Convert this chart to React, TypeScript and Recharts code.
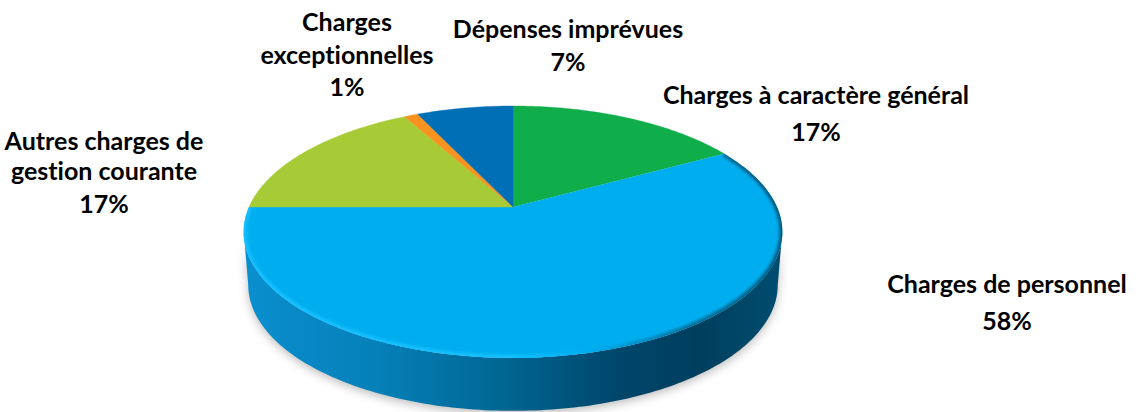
import React from "react";
import { PieChart, Pie } from "recharts";

const categories = [
  "Charges à caractère général",
  "Charges de personnel",
  "Autres charges de gestion courante",
  "Charges exceptionnelles",
  "Dépenses imprévues",
];
const shares = [17, 58, 17, 1, 7];
const colours = ["#10AD4B", "#00AEEF", "#A6CB36", "#F7931E", "#006FB5"];
const table = categories.map((name, i) => ({ name, value: shares[i], fill: colours[i] }));

// Text layout: wrapped lines, centre x, baseline of each line.
const labelLayout = [
  { lines: ["Charges à caractère général"], x: 816, ys: [104, 141] },
  { lines: ["Charges de personnel"], x: 1007, ys: [293, 330] },
  { lines: ["Autres charges de", "gestion courante"], x: 104, ys: [150, 180, 213] },
  { lines: ["Charges", "exceptionnelles"], x: 347, ys: [31, 64, 96] },
  { lines: ["Dépenses imprévues"], x: 568, ys: [38, 71] },
];

const W = 1143;
const H = 412;
const CX = 513;
const CY = 207;
const RADIUS = 264;
const TILT = 0.198; // perspective strength
const FLAT = 121 / 264; // vertical squash
const DEPTH = 53;
const SHRINK = 0.983;
const FRONT_START = -11.4;
const FRONT_END = -168.6;
const RAD = Math.PI / 180;

function project(cx: number, cy: number, r: number, a: number): [number, number] {
  const u = Math.cos(a * RAD);
  const v = Math.sin(a * RAD);
  const d = 1 + TILT * v;
  return [cx + (r * u) / d, cy - (r * FLAT * v) / d];
}

function samples(from: number, to: number) {
  const n = Math.max(2, Math.ceil(Math.abs(from - to)));
  return Array.from({ length: n + 1 }, (_, i) => from + ((to - from) * i) / n);
}

const fmt = (p: number[]) => `${p[0].toFixed(2)},${p[1].toFixed(2)}`;

function Slice3D(props: any) {
  const { cx, cy, outerRadius: r, startAngle, endAngle, fill } = props;
  const top = samples(startAngle, endAngle).map((a) => project(cx, cy, r, a));
  const d = `M${cx},${cy} L${top.map(fmt).join(" L")} Z`;

  const hi = Math.min(startAngle, FRONT_START);
  const lo = Math.max(endAngle, FRONT_END);
  if (hi > lo) {
    const front = samples(hi, lo).map((a) => project(cx, cy, r, a));
    const base = front.map(([x, y]) => [cx + (x - cx) * SHRINK, y + DEPTH]);
    const body = `M${front.map(fmt).join(" L")} L${base.slice().reverse().map(fmt).join(" L")} Z`;
    return (
      <g>
        <clipPath id="topFace">
          <path d={d} />
        </clipPath>
        <path d={body} fill="#000" fillOpacity={0.26} filter="url(#softShadow)" transform="translate(0,3)" />
        <path d={body} fill="url(#sideShade)" />
        <path d={d} fill={fill} />
        <g clipPath="url(#topFace)">
          <path
            d={`M${top.map(fmt).join(" L")}`}
            fill="none"
            stroke="url(#rimShade)"
            strokeWidth={6}
            filter="url(#softRim)"
          />
        </g>
      </g>
    );
  }
  return <path d={d} fill={fill} stroke={fill} strokeWidth={0.4} />;
}

function sliceLabel(props: any) {
  const { index, value } = props;
  const spec = labelLayout[index];
  const lines = [...spec.lines, `${value}%`];
  return (
    <text
      key={index}
      textAnchor="middle"
      fontFamily="Lato, sans-serif"
      fontWeight={700}
      fontSize={25}
      fill="#000"
      style={{ fontVariantLigatures: "none" }}
    >
      {lines.map((line, i) => (
        <tspan key={i} x={spec.x} y={spec.ys[i]}>
          {line}
        </tspan>
      ))}
    </text>
  );
}

export default function App() {
  return (
    <div style={{ position: "absolute", left: 0, top: 0, width: W, height: H }}>
      <PieChart width={W} height={H} margin={{ top: 0, right: 0, bottom: 0, left: 0 }}>
        <defs>
          <linearGradient id="sideShade" x1="0" y1="0" x2="1" y2="0">
            <stop offset="0" stopColor="#0A8FCF" />
            <stop offset="0.25" stopColor="#0580B8" />
            <stop offset="0.5" stopColor="#00648F" />
            <stop offset="0.7" stopColor="#00456A" />
            <stop offset="0.85" stopColor="#003F5E" />
            <stop offset="1" stopColor="#004D70" />
          </linearGradient>
          <linearGradient id="rimShade" x1="0" y1="0" x2="1" y2="0">
            <stop offset="0" stopColor="#12C0FF" />
            <stop offset="0.5" stopColor="#12C0FF" />
            <stop offset="0.64" stopColor="#00AEEF" />
            <stop offset="0.82" stopColor="#00709C" />
            <stop offset="1" stopColor="#00587E" />
          </linearGradient>
          <filter id="softShadow" x="-5%" y="-10%" width="110%" height="125%">
            <feGaussianBlur stdDeviation="5" />
          </filter>
          <filter id="softRim" x="-5%" y="-5%" width="110%" height="110%">
            <feGaussianBlur stdDeviation="1.6" />
          </filter>
        </defs>
        <Pie
          data={table}
          dataKey="value"
          nameKey="name"
          cx={CX}
          cy={CY}
          outerRadius={RADIUS}
          startAngle={90}
          endAngle={-270}
          stroke="none"
          shape={Slice3D}
          label={sliceLabel}
          labelLine={false}
          isAnimationActive={false}
        />
      </PieChart>
    </div>
  );
}
